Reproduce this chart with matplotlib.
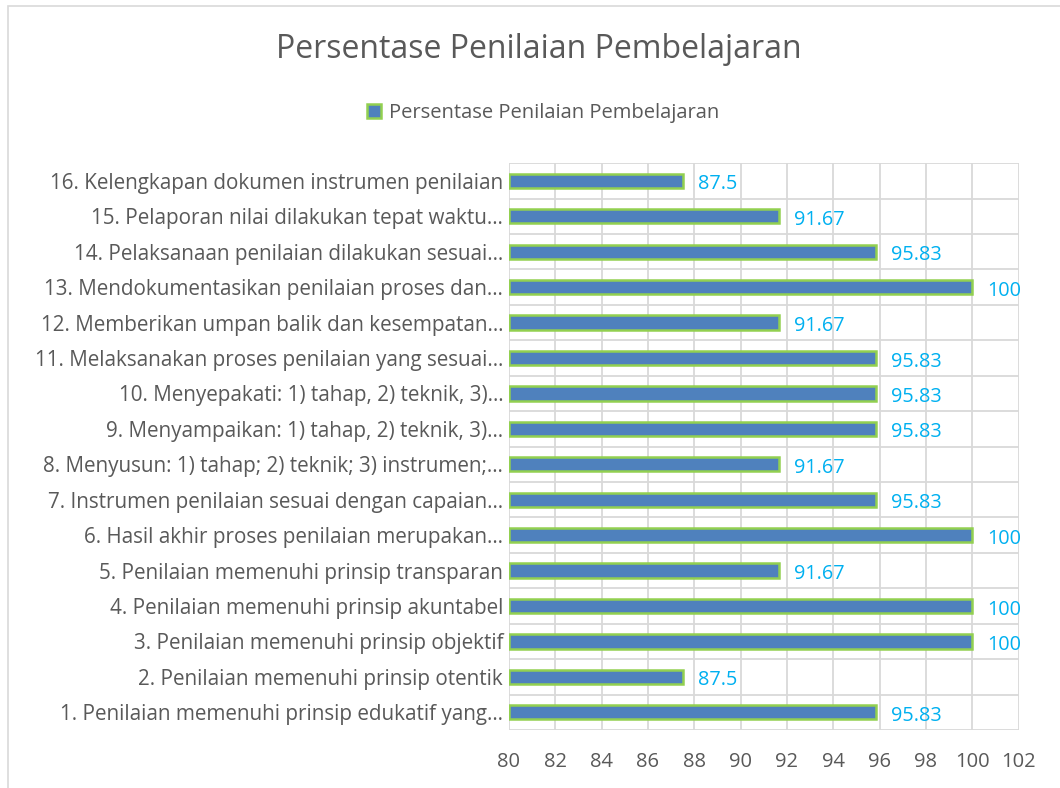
import matplotlib.pyplot as plt
from matplotlib.patches import Rectangle

plt.rcParams['font.family'] = ['Open Sans', 'DejaVu Sans']

# Data (1 at bottom, 16 at top)
categories = [
    "1. Penilaian memenuhi prinsip edukatif yang…",
    "2. Penilaian memenuhi prinsip otentik",
    "3. Penilaian memenuhi prinsip objektif",
    "4. Penilaian memenuhi prinsip akuntabel",
    "5. Penilaian memenuhi prinsip transparan",
    "6. Hasil akhir proses penilaian merupakan…",
    "7. Instrumen penilaian sesuai dengan capaian…",
    "8. Menyusun: 1) tahap; 2) teknik; 3) instrumen;…",
    "9. Menyampaikan: 1) tahap, 2) teknik, 3)…",
    "10. Menyepakati: 1) tahap, 2) teknik, 3)…",
    "11. Melaksanakan proses penilaian yang sesuai…",
    "12. Memberikan umpan balik dan kesempatan…",
    "13. Mendokumentasikan penilaian proses dan…",
    "14. Pelaksanaan penilaian dilakukan sesuai…",
    "15. Pelaporan nilai dilakukan tepat waktu…",
    "16. Kelengkapan dokumen instrumen penilaian",
]
values = [95.83, 87.5, 100, 100, 91.67, 100, 95.83, 91.67,
          95.83, 95.83, 95.83, 91.67, 100, 95.83, 91.67, 87.5]
series_name = "Persentase Penilaian Pembelajaran"
xticks = list(range(80, 103, 2))

text_color = '#595959'
bar_color = '#4F81BD'
edge_color = '#92D050'
label_color = '#00B0F0'
grid_color = '#D9D9D9'

fig = plt.figure(figsize=(10.6, 7.88), dpi=100)
ax = fig.add_axes([0.480, 0.0736, 0.481, 0.7194])

y = list(range(len(categories)))
ax.barh(y, [v - 80 for v in values], left=80, height=0.4,
        color=bar_color, edgecolor=edge_color, linewidth=1.8,
        label=series_name, zorder=3)

for yi, v in zip(y, values):
    ax.text(v + 0.65, yi - 0.1, f"{v:g}", color=label_color, fontsize=14.3,
            ha='left', va='center', zorder=4)

ax.set_xlim(80, 102)
ax.set_ylim(-0.5, len(categories) - 0.5)
ax.set_xticks(xticks)
ax.set_yticks(y)
ax.set_yticklabels(categories)

# gridlines: vertical at ticks, horizontal at category boundaries
for t in xticks:
    ax.axvline(t, color=grid_color, linewidth=1.3, zorder=1)
for b in range(len(categories) + 1):
    ax.axhline(b - 0.5, color=grid_color, linewidth=1.3, zorder=1)

for s in ax.spines.values():
    s.set_visible(False)
ax.tick_params(axis='x', length=0, colors=text_color, labelsize=14.5, pad=16)
ax.tick_params(axis='y', length=0, colors=text_color, labelsize=14.9, pad=4)

fig.text(0.508, 0.937, series_name, ha='center', va='center',
         fontsize=23, color=text_color)
ax.legend(loc='center', bbox_to_anchor=(0.512, 0.856),
          bbox_transform=fig.transFigure, frameon=False,
          fontsize=14.5, labelcolor=text_color, handlelength=0.7,
          handleheight=0.7, handletextpad=0.4)

# chart border
fig.patches.append(Rectangle((0.008, -0.01), 1.2, 1.003, transform=fig.transFigure,
                             fill=False, edgecolor='#D9D9D9', linewidth=1.2))

fig.savefig('out.png', dpi=100)
